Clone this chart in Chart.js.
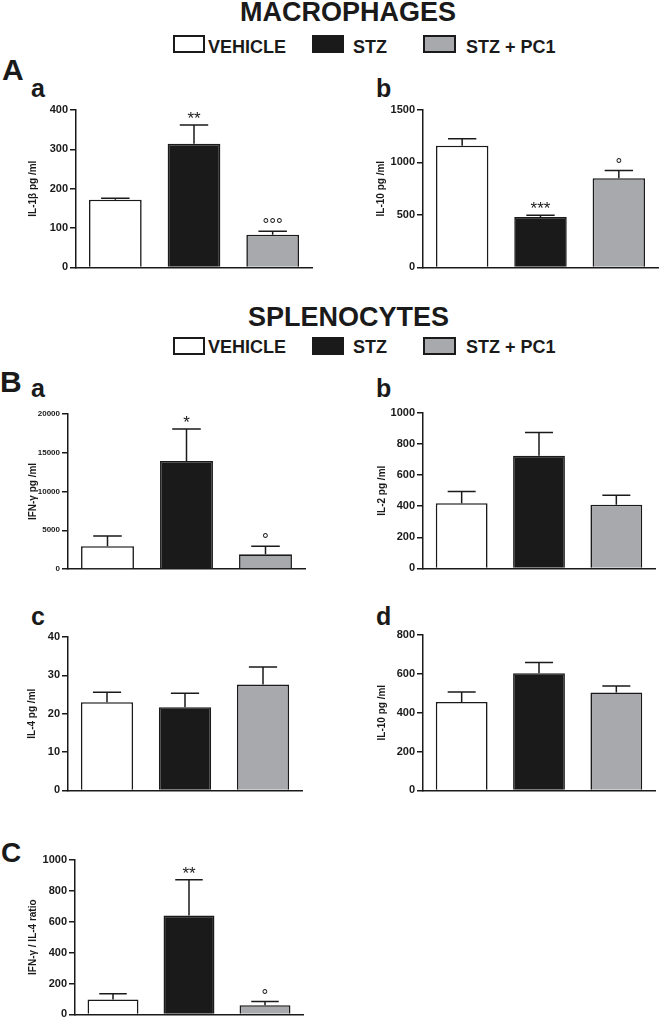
<!DOCTYPE html>
<html><head><meta charset="utf-8">
<script src="https://cdn.jsdelivr.net/npm/chart.js@4"></script>
<style>
html,body{margin:0;padding:0;background:#fff;}
body{width:660px;height:1020px;position:relative;overflow:hidden;font-family:"Liberation Sans",Arial,sans-serif;color:#1a1a1a;}
.t{position:absolute;font-weight:bold;white-space:nowrap;line-height:1;}
.box{position:absolute;box-sizing:border-box;border:2px solid #1a1a1a;width:32px;height:18px;}
canvas{position:absolute;}
</style></head><body>

<div class="t" style="left:240px;top:-1px;font-size:27px;">MACROPHAGES</div>
<div class="box" style="left:173px;top:35px;background:#fff;"></div>
<div class="t" style="left:208px;top:38px;font-size:18px;">VEHICLE</div>
<div class="box" style="left:312px;top:35px;background:#1a1a1a;"></div>
<div class="t" style="left:353px;top:38px;font-size:18px;">STZ</div>
<div class="box" style="left:423px;top:35px;background:#a7a9ac;width:33px;"></div>
<div class="t" style="left:466px;top:38px;font-size:18px;">STZ + PC1</div>

<div class="t" style="left:2px;top:55px;font-size:30px;">A</div>
<div class="t" style="left:31px;top:76px;font-size:25px;">a</div>
<div class="t" style="left:376px;top:76px;font-size:25px;">b</div>

<div class="t" style="left:248px;top:304px;font-size:27px;">SPLENOCYTES</div>
<div class="box" style="left:173px;top:337px;background:#fff;"></div>
<div class="t" style="left:208px;top:338px;font-size:18px;">VEHICLE</div>
<div class="box" style="left:312px;top:337px;background:#1a1a1a;"></div>
<div class="t" style="left:353px;top:338px;font-size:18px;">STZ</div>
<div class="box" style="left:423px;top:337px;background:#a7a9ac;width:33px;"></div>
<div class="t" style="left:466px;top:338px;font-size:18px;">STZ + PC1</div>

<div class="t" style="left:0px;top:367px;font-size:30px;">B</div>
<div class="t" style="left:31px;top:376px;font-size:25px;">a</div>
<div class="t" style="left:376px;top:376px;font-size:25px;">b</div>
<div class="t" style="left:31px;top:604px;font-size:25px;">c</div>
<div class="t" style="left:376px;top:604px;font-size:25px;">d</div>
<div class="t" style="left:1px;top:839px;font-size:28px;">C</div>

<canvas id="cAa"></canvas>
<canvas id="cAb"></canvas>
<canvas id="cBa"></canvas>
<canvas id="cBb"></canvas>
<canvas id="cBc"></canvas>
<canvas id="cBd"></canvas>
<canvas id="cC"></canvas>

<script>
// ---------- data ----------
const groups = ["VEHICLE", "STZ", "STZ + PC1"];
const groupColors = ["#ffffff", "#1a1a1a", "#a7a9ac"];

// A a: macrophages IL-1beta
const macIL1b = [172, 314, 83];
const macIL1bErr = [4, 48, 9];
const macIL1bSig = ["", "**", "°°°"];
const macIL1bTicks = [0, 100, 200, 300, 400];

// A b: macrophages IL-10
const macIL10 = [1160, 480, 850];
const macIL10Err = [65, 17, 73];
const macIL10Sig = ["", "***", "°"];
const macIL10Ticks = [0, 500, 1000, 1500];

// B a: splenocytes IFN-gamma
const splIFNg = [2950, 13950, 1900];
const splIFNgErr = [1300, 4100, 1050];
const splIFNgSig = ["", "*", "°"];
const splIFNgTicks = [0, 5000, 10000, 15000, 20000];

// B b: splenocytes IL-2
const splIL2 = [420, 725, 410];
const splIL2Err = [75, 150, 60];
const splIL2Sig = ["", "", ""];
const splIL2Ticks = [0, 200, 400, 600, 800, 1000];

// B c: splenocytes IL-4
const splIL4 = [23, 21.7, 27.6];
const splIL4Err = [2.6, 3.6, 4.6];
const splIL4Sig = ["", "", ""];
const splIL4Ticks = [0, 10, 20, 30, 40];

// B d: splenocytes IL-10
const splIL10 = [455, 603, 504];
const splIL10Err = [52, 55, 34];
const splIL10Sig = ["", "", ""];
const splIL10Ticks = [0, 200, 400, 600, 800];

// C: IFN-gamma / IL-4 ratio
const ratio = [97, 640, 60];
const ratioErr = [36, 232, 23];
const ratioSig = ["", "**", "°"];
const ratioTicks = [0, 200, 400, 600, 800, 1000];

// ---------- layout (page pixels) ----------
const PT = 10, PB = 8, PR = 3;
const INK = "#1a1a1a";
const FONT = '"Liberation Sans", Arial, sans-serif';

const errPlugin = {
  id: 'errbars',
  afterDatasetsDraw(chart, args, opts) {
    const ctx = chart.ctx, ys = chart.scales.y;
    const meta = chart.getDatasetMeta(0);
    const vals = chart.data.datasets[0].data;
    ctx.save();
    ctx.strokeStyle = INK; ctx.fillStyle = INK; ctx.lineWidth = 1.5;
    meta.data.forEach((bar, i) => {
      const top = ys.getPixelForValue(vals[i] + opts.err[i]);
      const half = bar.width * 0.27;
      ctx.beginPath();
      ctx.moveTo(bar.x, bar.y); ctx.lineTo(bar.x, top);
      ctx.moveTo(bar.x - half, top); ctx.lineTo(bar.x + half, top);
      ctx.stroke();
      const s = opts.sig[i];
      if (s) {
        ctx.font = '17px ' + FONT;
        ctx.textAlign = 'center'; ctx.textBaseline = 'alphabetic';
        ctx.fillText(s, bar.x, top - 1);
      }
    });
    ctx.restore();
  }
};

function makeChart(id, values, errs, sigs, ticks, title, geo, tickSize) {
  const cv = document.getElementById(id);
  const top = geo.topY - PT;
  const w = geo.rightX - geo.left + PR;
  const h = geo.bottomY - top + PB;
  cv.width = w; cv.height = h;
  cv.style.left = geo.left + 'px'; cv.style.top = top + 'px';
  cv.style.width = w + 'px'; cv.style.height = h + 'px';
  const axisW = geo.axisX - geo.left;
  const titleLH = 12;
  new Chart(cv, {
    type: 'bar',
    data: {
      labels: groups,
      datasets: [{
        data: values,
        backgroundColor: groupColors,
        borderColor: INK,
        borderWidth: 1.6,
        borderSkipped: 'bottom',
        barPercentage: 1.0,
        categoryPercentage: 0.67
      }]
    },
    options: {
      responsive: false,
      animation: false,
      devicePixelRatio: 1,
      layout: { padding: { top: PT, bottom: PB, left: 0, right: PR } },
      plugins: {
        legend: { display: false },
        tooltip: { enabled: false },
        errbars: { err: errs, sig: sigs }
      },
      scales: {
        x: {
          grid: { display: false },
          ticks: { display: false },
          border: { display: true, color: INK, width: 1.5 },
          afterFit(s) { s.height = 0; }
        },
        y: {
          min: ticks[0], max: ticks[ticks.length - 1],
          ticks: {
            stepSize: ticks[1] - ticks[0],
            color: INK, padding: 2,
            font: { family: FONT, size: tickSize, weight: 'bold' },
            callback: (v) => String(v)
          },
          grid: { display: true, drawOnChartArea: false, drawTicks: true, tickLength: 6, color: INK, lineWidth: 1.5 },
          border: { display: true, color: INK, width: 1.5 },
          title: {
            display: true, text: title, color: INK,
            font: { family: FONT, size: 10, weight: 'bold', lineHeight: 1.2 },
            padding: { top: geo.titleX - geo.left - titleLH / 2, bottom: 0 }
          },
          afterFit(s) { s.width = axisW; }
        }
      }
    },
    plugins: [errPlugin]
  });
}

makeChart('cAa', macIL1b, macIL1bErr, macIL1bSig, macIL1bTicks, 'IL-1β pg /ml',
  { left: 0, axisX: 76, topY: 110, bottomY: 268, rightX: 312, titleX: 33 }, 11);
makeChart('cAb', macIL10, macIL10Err, macIL10Sig, macIL10Ticks, 'IL-10 pg /ml',
  { left: 330, axisX: 423, topY: 110, bottomY: 268, rightX: 658, titleX: 381 }, 11);
makeChart('cBa', splIFNg, splIFNgErr, splIFNgSig, splIFNgTicks, 'IFN-γ pg /ml',
  { left: 0, axisX: 68, topY: 414, bottomY: 569, rightX: 305, titleX: 33 }, 8);
makeChart('cBb', splIL2, splIL2Err, splIL2Sig, splIL2Ticks, 'IL-2 pg /ml',
  { left: 330, axisX: 423, topY: 413, bottomY: 569, rightX: 655, titleX: 382 }, 11);
makeChart('cBc', splIL4, splIL4Err, splIL4Sig, splIL4Ticks, 'IL-4 pg /ml',
  { left: 0, axisX: 68, topY: 637, bottomY: 791, rightX: 302, titleX: 32 }, 11);
makeChart('cBd', splIL10, splIL10Err, splIL10Sig, splIL10Ticks, 'IL-10 pg /ml',
  { left: 330, axisX: 423, topY: 635, bottomY: 791, rightX: 655, titleX: 382 }, 11);
makeChart('cC', ratio, ratioErr, ratioSig, ratioTicks, 'IFN-γ / IL-4 ratio',
  { left: 0, axisX: 75, topY: 860, bottomY: 1015, rightX: 303, titleX: 33 }, 11);
</script>
</body></html>
